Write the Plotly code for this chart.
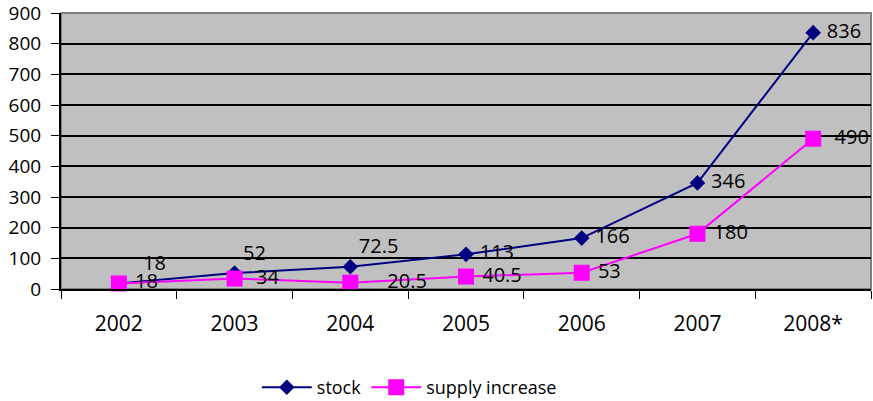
import plotly.graph_objects as go

years = ["2002", "2003", "2004", "2005", "2006", "2007", "2008*"]
stock = [18, 52, 72.5, 113, 166, 346, 836]
supply = [18, 34, 20.5, 40.5, 53, 180, 490]
stock_labels = ["18", "52", "72.5", "113", "166", "346", "836"]
supply_labels = ["18", "34", "20.5", "40.5", "53", "180", "490"]
y_ticks = [0, 100, 200, 300, 400, 500, 600, 700, 800, 900]

font = "Open Sans, Noto Sans, sans-serif"

fig = go.Figure()
fig.add_trace(go.Scatter(
    x=years, y=stock, name="stock", mode="lines+markers+text",
    line=dict(color="#000080", width=2),
    marker=dict(symbol="diamond", size=12, color="#000080"),
    text=stock_labels,
    texttemplate=["   %{text}", "%{text}", "%{text}", " %{text}",
                  " %{text}", " %{text}", " %{text}"],
    textposition=["top right", "top right", "top right", "middle right",
                  "middle right", "middle right", "middle right"],
    textfont=dict(size=20, color="black", family=font),
    cliponaxis=False,
))
fig.add_trace(go.Scatter(
    x=years, y=supply, name="supply increase", mode="lines+markers+text",
    line=dict(color="#FF00FF", width=2),
    marker=dict(symbol="square", size=16, color="#FF00FF"),
    text=supply_labels,
    texttemplate=[" %{text}", "  %{text}", "     %{text}", " %{text}",
                  " %{text}", " %{text}", "  %{text}"],
    textposition="middle right",
    textfont=dict(size=20, color="black", family=font),
    cliponaxis=False,
))

fig.update_layout(
    width=873, height=401,
    margin=dict(l=61, r=2, t=13, b=112, autoexpand=False),
    paper_bgcolor="white",
    plot_bgcolor="#C0C0C0",
    font=dict(family=font, size=18, color="black"),
    showlegend=True,
    legend=dict(orientation="h", x=0.43, xanchor="center", y=-0.29, yanchor="top",
                font=dict(size=18), itemwidth=50),
    xaxis=dict(
        type="category", tickson="boundaries", ticks="outside", ticklen=8,
        tickcolor="black", showline=True, linecolor="black", linewidth=2,
        showgrid=False, mirror=False, tickfont=dict(size=21),
        ticklabelstandoff=15, automargin=False,
        range=[-0.5, 6.5],
    ),
    yaxis=dict(
        range=[0, 900], tickvals=y_ticks, ticks="outside", ticklen=8,
        tickcolor="black", showline=True, linecolor="black", linewidth=2,
        showgrid=True, gridcolor="black", gridwidth=1.5, zeroline=False,
        tickfont=dict(size=19), ticklabelstandoff=6, automargin=False,
        ticklabeloverflow="allow",
    ),
)
fig.add_shape(type="rect", xref="paper", yref="paper", x0=0, y0=0, x1=1, y1=1,
              line=dict(color="#808080", width=2), layer="below")

fig.write_html("out.html")
